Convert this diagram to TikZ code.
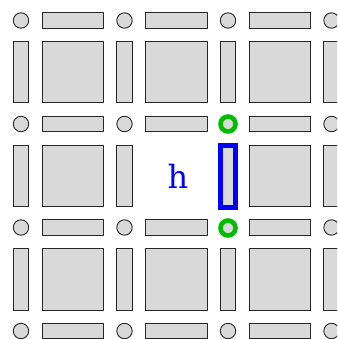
\documentclass[tikz,border=0pt]{standalone}
\usepackage{fontspec}
\newfontfamily\hfont{DejaVu Serif}
\definecolor{cellfill}{HTML}{D9D9D9}
\definecolor{hlgreen}{HTML}{00BB00}
\begin{document}
\begin{tikzpicture}[x=1pt,y=-1pt,
  part/.style={draw=black!85,fill=cellfill,line width=0.9pt,inner sep=0pt,outer sep=0pt},
  vtx/.style={part,circle,minimum size=15.4pt},
  hbar/.style={part,rectangle,minimum width=61.4pt,minimum height=15.4pt},
  vbar/.style={part,rectangle,minimum width=15.4pt,minimum height=61.4pt},
  cellsq/.style={part,rectangle,minimum width=61.4pt,minimum height=61.4pt},
  hlvtx/.style={vtx,draw=hlgreen,line width=4.6pt,minimum size=15pt},
  hlbar/.style={vbar,draw=blue,line width=4.6pt,minimum width=15pt,minimum height=62pt}]
\useasboundingbox (0,0) rectangle (337,339);
\clip (0,0) rectangle (337,339);
\foreach \i in {0,...,3}{
  \foreach \j in {0,...,3}{
    \pgfmathsetmacro{\xx}{21+103.5*\i}
    \pgfmathsetmacro{\yy}{20.5+103.5*\j}
    \ifnum\i=2 \ifnum\j=1 \def\skipv{1}\else\ifnum\j=2 \def\skipv{1}\else\def\skipv{0}\fi\fi\else\def\skipv{0}\fi
    \ifnum\skipv=0
      \node[vtx] (v-\i-\j) at (\xx,\yy) {};
    \fi
    \ifnum\i<3
      \node[hbar] (h-\i-\j) at (\xx+51.75,\yy) {};
    \fi
    \ifnum\j<3
      \ifnum\i=2 \ifnum\j=1 \else
        \node[vbar] (b-\i-\j) at (\xx,\yy+51.75) {};
      \fi\else
        \node[vbar] (b-\i-\j) at (\xx,\yy+51.75) {};
      \fi
    \fi
    \ifnum\i<3 \ifnum\j<3
      \ifnum\i=1 \ifnum\j=1 \else
        \node[cellsq] (s-\i-\j) at (\xx+51.75,\yy+51.75) {};
      \fi\else
        \node[cellsq] (s-\i-\j) at (\xx+51.75,\yy+51.75) {};
      \fi
    \fi\fi
  }
}
\node[hlvtx] (v-2-1) at (228,124) {};
\node[hlvtx] (v-2-2) at (228,228) {};
\node[hlbar] (b-2-1) at (228,176.5) {};
\node[text=blue,font=\hfont\fontsize{32}{32}\selectfont,inner sep=0pt] (h) at (178,176) {h};
\end{tikzpicture}
\end{document}
